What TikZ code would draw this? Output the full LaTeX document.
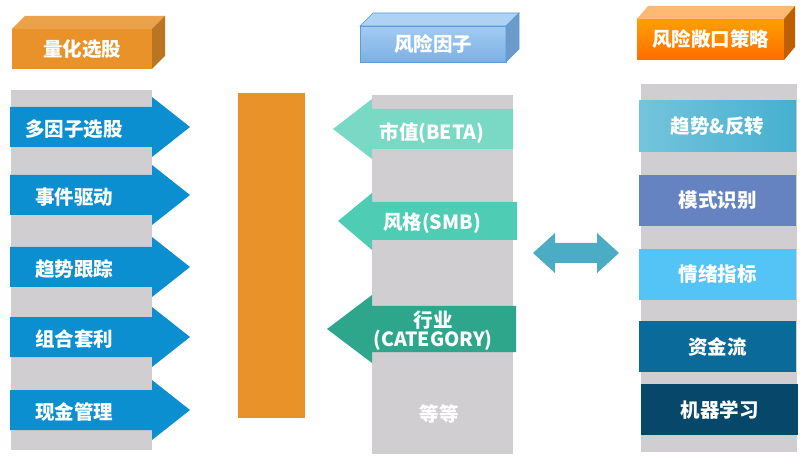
\documentclass[tikz,border=0pt]{standalone}
\usepackage{fontspec}
\setmainfont{Noto Sans CJK SC}
\usetikzlibrary{positioning,calc}
\definecolor{BarGrey}{HTML}{D0CED0}
\definecolor{QBlue}{HTML}{0B8FD1}
\definecolor{PoolOrange}{HTML}{E9922A}
\definecolor{FacA}{HTML}{79D9C4}
\definecolor{FacB}{HTML}{4ECDB4}
\definecolor{FacC}{HTML}{2DA68B}
\definecolor{Swap}{HTML}{4AACC5}
\definecolor{Exp1}{HTML}{46B0D0}
\definecolor{Exp2}{HTML}{6483C0}
\definecolor{Exp3}{HTML}{54C4F6}
\definecolor{Exp4}{HTML}{0A6B9B}
\definecolor{Exp5}{HTML}{07486A}
\definecolor{HeadBlueTop}{HTML}{A2CBF0}
\definecolor{HeadBlueBot}{HTML}{7CB1E6}
\definecolor{HeadBlueLid}{HTML}{AED2F3}
\definecolor{HeadBlueSide}{HTML}{6C9BCB}
\definecolor{HeadBlueEdge}{HTML}{5A9BD8}
\tikzset{
	txt/.style={text=white, font=\bfseries\fontsize{19.5}{22}\selectfont, align=center},
	greybar/.style={fill=BarGrey},
	qarrow/.style={fill=QBlue},
	header/.style={txt, inner sep=0pt, outer sep=0pt},
	expbox/.style={txt, inner sep=0pt, outer sep=0pt, minimum width=157pt, minimum height=51pt},
}
\begin{document}
\begin{tikzpicture}[x=1pt,y=-1pt]
	\useasboundingbox[fill=white] (0,0) rectangle (803,462);
	% headers
	\node (hq) [header,fill=PoolOrange,minimum width=140pt,minimum height=40pt] at (82,49) {量化选股};
	\fill[PoolOrange!85!white] (hq.north west) -- ++(13,-13) -- ++(140,0) -- (hq.north east) -- cycle;
	\fill[PoolOrange!80!black] (hq.north east) -- ++(13,-13) -- ++(0,40) -- (hq.south east) -- cycle;
	\node (hf) [header,top color=HeadBlueTop,bottom color=HeadBlueBot,draw=HeadBlueEdge,line width=0.6pt,minimum width=146pt,minimum height=36pt] at (433,44) {风险因子};
	\filldraw[fill=HeadBlueLid,draw=HeadBlueEdge,line width=0.6pt] (hf.north west) -- ++(13,-13) -- ++(146,0) -- (hf.north east) -- cycle;
	\filldraw[fill=HeadBlueSide,draw=HeadBlueEdge,line width=0.6pt] (hf.north east) -- ++(13,-13) -- ++(0,36) -- (hf.south east) -- cycle;
	\node (he) [header,top color=orange!75!yellow,bottom color=orange!85!red,minimum width=147pt,minimum height=41pt] at (710.5,39.5) {风险敞口策略};
	\fill[orange!55!white] (he.north west) -- ++(11,-13) -- ++(147,0) -- (he.north east) -- cycle;
	\fill[orange!75!black] (he.north east) -- ++(11,-13) -- ++(0,41) -- (he.south east) -- cycle;
	% grey bars
	\fill[greybar] (11,90) rectangle (152,450);
	\fill[greybar] (372,95) rectangle (513,454);
	\fill[greybar] (641,84) rectangle (797,452);
	% quant strategies
	\foreach \y/\t [count=\i] in {127/多因子选股,195/事件驱动,267/趋势跟踪,337/组合套利,410/现金管理}{
		\fill[qarrow] (10,\y-20) -- (152,\y-20) -- (152,\y-30) -- (190,\y) -- (152,\y+30) -- (152,\y+20) -- (10,\y+20) -- cycle;
		\node (q\i) [txt] at (74,\y+2) {\t};
	}
	\fill[PoolOrange] (238,93) rectangle (305,418);
	% risk factors
	\fill[FacA] (513,109) -- (372,109) -- (372,99) -- (333,129) -- (372,159) -- (372,149) -- (513,149) -- cycle;
	\node (fa) [txt] at (432,133) {市值(BETA)};
	\fill[FacB] (517,202) -- (372,202) -- (372,193) -- (338,221) -- (372,250) -- (372,240) -- (517,240) -- cycle;
	\node (fb) [txt] at (432,223) {风格(SMB)};
	\fill[FacC] (516,306) -- (372,306) -- (372,295) -- (327,329) -- (372,363) -- (372,352) -- (516,352) -- cycle;
	\node (fc) [txt,font=\bfseries\fontsize{19.5}{19}\selectfont] at (433,331) {行业\\(CATEGORY)};
	\node (etc) [txt] at (439,414) {等等};
	% exposure
	\fill[Swap] (533,253) -- (555,233) -- (555,243) -- (597,243) -- (597,233) -- (619,253) -- (597,273) -- (597,263) -- (555,263) -- (555,273) -- cycle;
	\node (e1) [expbox,left color=Exp1!75!white,right color=Exp1] at (717.5,126.5) {趋势\&反转};
	\node (e2) [expbox,fill=Exp2,below=23pt of e1] {模式识别};
	\node (e3) [expbox,fill=Exp3,below=23pt of e2] {情绪指标};
	\node (e4) [expbox,fill=Exp4,below=21pt of e3] {资金流};
	\node (e5) [expbox,fill=Exp5,below=12pt of e4,xshift=2pt] {机器学习};
\end{tikzpicture}
\end{document}
